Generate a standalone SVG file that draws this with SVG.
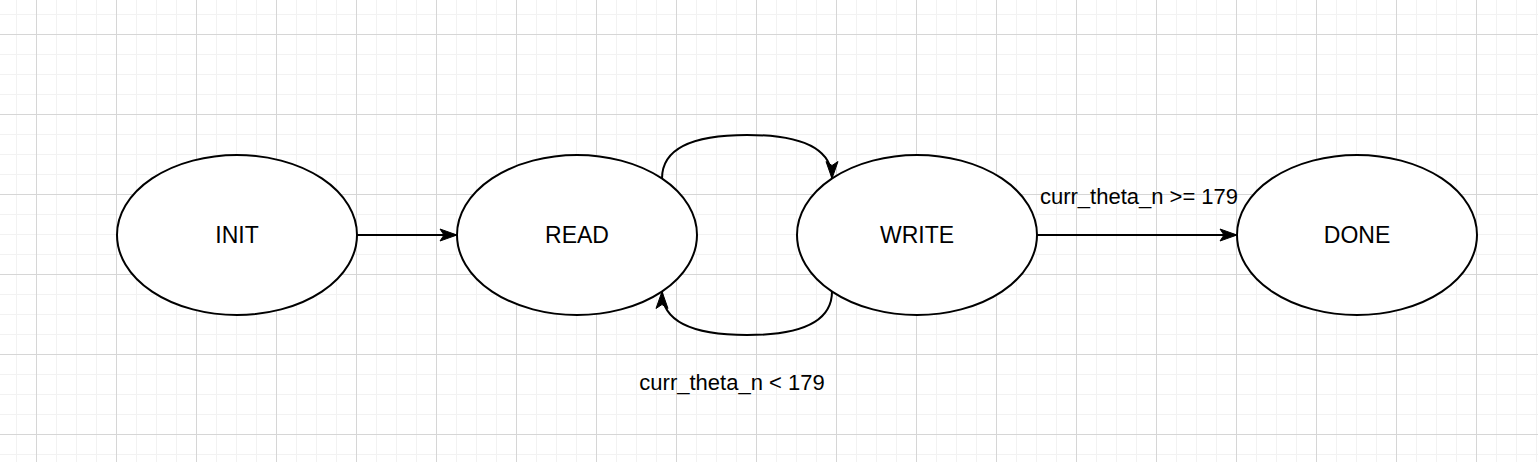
<svg xmlns="http://www.w3.org/2000/svg" width="1538" height="462" viewBox="0 0 1538 462">
  <defs>
    <pattern id="minor" x="16" y="14" width="20" height="20" patternUnits="userSpaceOnUse">
      <path d="M0.5,0 V20 M0,0.5 H20" stroke="#f2f2f2" stroke-width="1" fill="none"/>
    </pattern>
    <pattern id="major" x="36" y="34" width="80" height="80" patternUnits="userSpaceOnUse">
      <path d="M0.5,0 V80 M0,0.5 H80" stroke="#d6d6d6" stroke-width="1" fill="none"/>
    </pattern>
    <marker id="arrow" markerUnits="userSpaceOnUse" markerWidth="22" markerHeight="16" viewBox="-20 -8 22 16" refX="0" refY="0" orient="auto">
      <path d="M-17,-6 L0,0 L-17,6 L-13,0 Z" fill="#000" stroke="#000" stroke-width="1" stroke-linejoin="miter"/>
    </marker>
    <style>
      .node ellipse { fill: #ffffff; stroke: #000000; stroke-width: 2; }
      .node text, .label { font-family: "Liberation Sans", Arial, sans-serif; fill: #000000; }
      .label { font-size: 22px; }
      .node text { font-size: 23px; text-anchor: middle; }
      .edge { fill: none; stroke: #000000; stroke-width: 2; marker-end: url(#arrow); }
    </style>
  </defs>

  <rect width="1538" height="462" fill="#ffffff"/>
  <rect width="1538" height="462" fill="url(#minor)"/>
  <rect width="1538" height="462" fill="url(#major)"/>

  <g id="connectors">
    <path class="edge" d="M357,235 L457,235"/>
    <path class="edge" d="M662,178.5 Q662,135 747,135 Q832,135 832,178.5"/>
    <path class="edge" d="M832,291.5 Q832,335 747,335 Q662,335 662,291.5"/>
    <path class="edge" d="M1037,235 L1237,235"/>
    <text class="label" x="1139" y="204" text-anchor="middle">curr_theta_n &gt;= 179</text>
    <text class="label" x="732" y="390" text-anchor="middle">curr_theta_n &lt; 179</text>
  </g>

  <g id="node-init" class="node">
    <ellipse cx="237" cy="235" rx="120" ry="80"/>
    <text x="237" y="243">INIT</text>
  </g>
  <g id="node-read" class="node">
    <ellipse cx="577" cy="235" rx="120" ry="80"/>
    <text x="577" y="243">READ</text>
  </g>
  <g id="node-write" class="node">
    <ellipse cx="917" cy="235" rx="120" ry="80"/>
    <text x="917" y="243">WRITE</text>
  </g>
  <g id="node-done" class="node">
    <ellipse cx="1357" cy="235" rx="120" ry="80"/>
    <text x="1357" y="243">DONE</text>
  </g>
</svg>
